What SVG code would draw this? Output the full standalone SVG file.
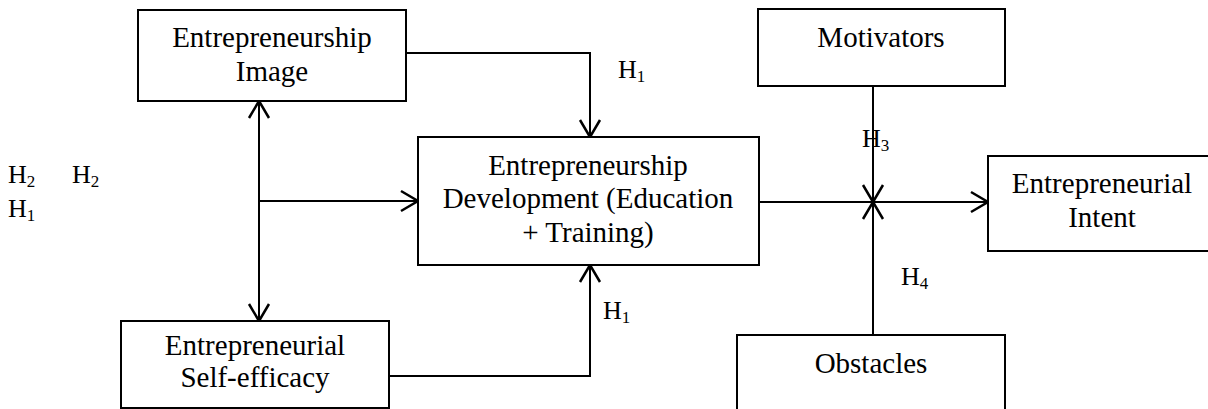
<svg xmlns="http://www.w3.org/2000/svg" width="1208" height="409" viewBox="0 0 1208 409">
  <style>
    .box { fill: #fff; stroke: #000; stroke-width: 2; }
    .lbl { font-family: "Liberation Serif", "Times New Roman", serif; font-size: 29px; fill: #000; text-anchor: middle; }
    .hyp { font-family: "Liberation Serif", "Times New Roman", serif; font-size: 26px; fill: #000; }
    .sub { font-size: 17px; }
    .wire { fill: none; stroke: #000; stroke-width: 2; }
  </style>
  <defs>
    <marker id="arrow" markerUnits="userSpaceOnUse" markerWidth="24" markerHeight="24" viewBox="-20 -12 24 24" refX="0" refY="0" orient="auto-start-reverse">
      <path d="M-17,-10 L0,0 L-17,10" fill="none" stroke="#000" stroke-width="2.5"/>
    </marker>
  </defs>

  <!-- connectors -->
  <g id="connectors">
    <path class="wire" d="M406,53 H590 V137" marker-end="url(#arrow)"/>
    <path class="wire" d="M259,101 V321" marker-start="url(#arrow)" marker-end="url(#arrow)"/>
    <path class="wire" d="M259,201 H418" marker-end="url(#arrow)"/>
    <path class="wire" d="M389,376 H590 V265" marker-end="url(#arrow)"/>
    <path class="wire" d="M759,202 H988" marker-end="url(#arrow)"/>
    <path class="wire" d="M873,86 V202" marker-end="url(#arrow)"/>
    <path class="wire" d="M873,335 V202" marker-end="url(#arrow)"/>
  </g>

  <!-- nodes -->
  <g id="image">
    <rect class="box" x="138" y="10" width="268" height="91"/>
    <text class="lbl" x="272" y="47">Entrepreneurship</text>
    <text class="lbl" x="272" y="81">Image</text>
  </g>
  <g id="self-efficacy">
    <rect class="box" x="121" y="321" width="268" height="87"/>
    <text class="lbl" x="255" y="355">Entrepreneurial</text>
    <text class="lbl" x="255" y="387">Self-efficacy</text>
  </g>
  <g id="development">
    <rect class="box" x="418" y="137" width="341" height="128"/>
    <text class="lbl" x="588" y="175">Entrepreneurship</text>
    <text class="lbl" x="588" y="208">Development (Education</text>
    <text class="lbl" x="588" y="242">+ Training)</text>
  </g>
  <g id="motivators">
    <rect class="box" x="758" y="9" width="247" height="77"/>
    <text class="lbl" x="881" y="47">Motivators</text>
  </g>
  <g id="intent">
    <rect class="box" x="988" y="156" width="228" height="95"/>
    <text class="lbl" x="1102" y="193">Entrepreneurial</text>
    <text class="lbl" x="1102" y="227">Intent</text>
  </g>
  <g id="obstacles">
    <rect class="box" x="737" y="335" width="268" height="80"/>
    <text class="lbl" x="871" y="373">Obstacles</text>
  </g>

  <!-- hypothesis labels -->
  <g id="hypotheses">
    <text class="hyp" x="8" y="183">H<tspan class="sub" dy="4">2</tspan></text>
    <text class="hyp" x="72" y="183">H<tspan class="sub" dy="4">2</tspan></text>
    <text class="hyp" x="8" y="217">H<tspan class="sub" dy="4">1</tspan></text>
    <text class="hyp" x="618" y="78">H<tspan class="sub" dy="4">1</tspan></text>
    <text class="hyp" x="603" y="319">H<tspan class="sub" dy="4">1</tspan></text>
    <text class="hyp" x="862" y="147">H<tspan class="sub" dy="4">3</tspan></text>
    <text class="hyp" x="901" y="285">H<tspan class="sub" dy="4">4</tspan></text>
  </g>
</svg>
